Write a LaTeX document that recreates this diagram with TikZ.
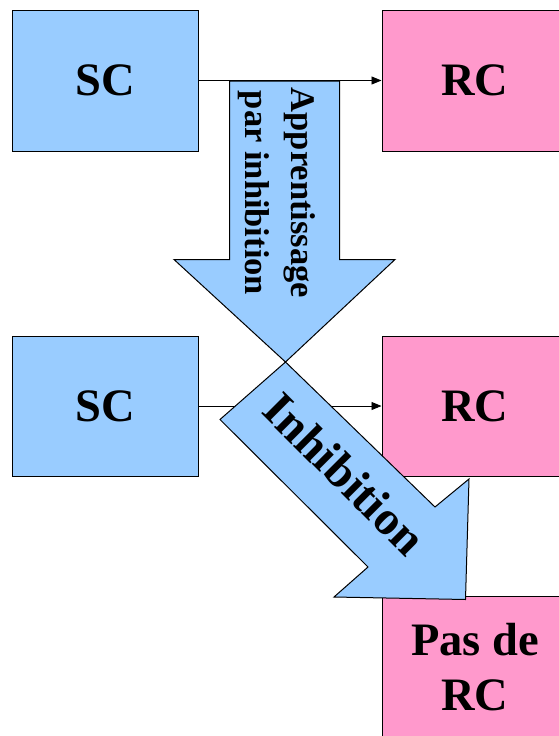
\documentclass[tikz,border=0pt]{standalone}
\usepackage{fontspec}
\setmainfont{Liberation Serif}
\usetikzlibrary{arrows.meta}
\definecolor{boxblue}{HTML}{99CCFF}
\definecolor{boxpink}{HTML}{FF99CC}
\tikzset{
  box/.style={draw=black, line width=1pt, minimum width=186pt, inner sep=0pt,
    font=\bfseries\fontsize{46.5}{55}\selectfont, align=center},
  bluebox/.style={box, fill=boxblue},
  pinkbox/.style={box, fill=boxpink},
  conn/.style={draw=black, line width=0.9pt, -{Triangle[length=10pt,width=8pt]}},
  bigarrow/.style={draw=black, line width=1pt, fill=boxblue, line join=miter},
  arrowlabel/.style={inner sep=0pt, align=center}
}
\begin{document}
\begin{tikzpicture}[x=1pt,y=-1pt]
\useasboundingbox (0,0) rectangle (558,736);
\fill[white] (0,0) rectangle (558,736);
% boxes
\node[bluebox, minimum height=141pt] (sc1) at (105,80.5) {SC};
\node[pinkbox, minimum height=141pt] (rc1) at (475,80.5) {RC};
\node[bluebox, minimum height=140pt] (sc2) at (105,406) {SC};
\node[pinkbox, minimum height=140pt] (rc2) at (475,406) {RC};
\node[pinkbox, minimum height=142pt] (rc3) at (475,667) {Pas de\\RC};
% connectors
\draw[conn] (sc2.east) -- (rc2.west);
% vertical block arrow
\path[bigarrow] (229.5,81) -- (229.5,259.5) -- (174,259.5) -- (285.5,362) -- (395,259.5) -- (339.5,259.5) -- (339.5,81) -- cycle;
\draw[conn] (sc1.east) -- (rc1.west);
\node[arrowlabel, rotate=-90, font=\bfseries\fontsize{34.5}{46}\selectfont] (t1) at (277,193) {Apprentissage\\par inhibition};
% diagonal block arrow
\path[bigarrow] (285.5,362) -- (435,507) -- (469,479) -- (465.5,599.5) -- (334,597) -- (368,567) -- (220,419.5) -- cycle;
\node[arrowlabel, rotate=-45, font=\bfseries\fontsize{48}{50}\selectfont] (t2) at (345,474) {Inhibition};
\end{tikzpicture}
\end{document}
